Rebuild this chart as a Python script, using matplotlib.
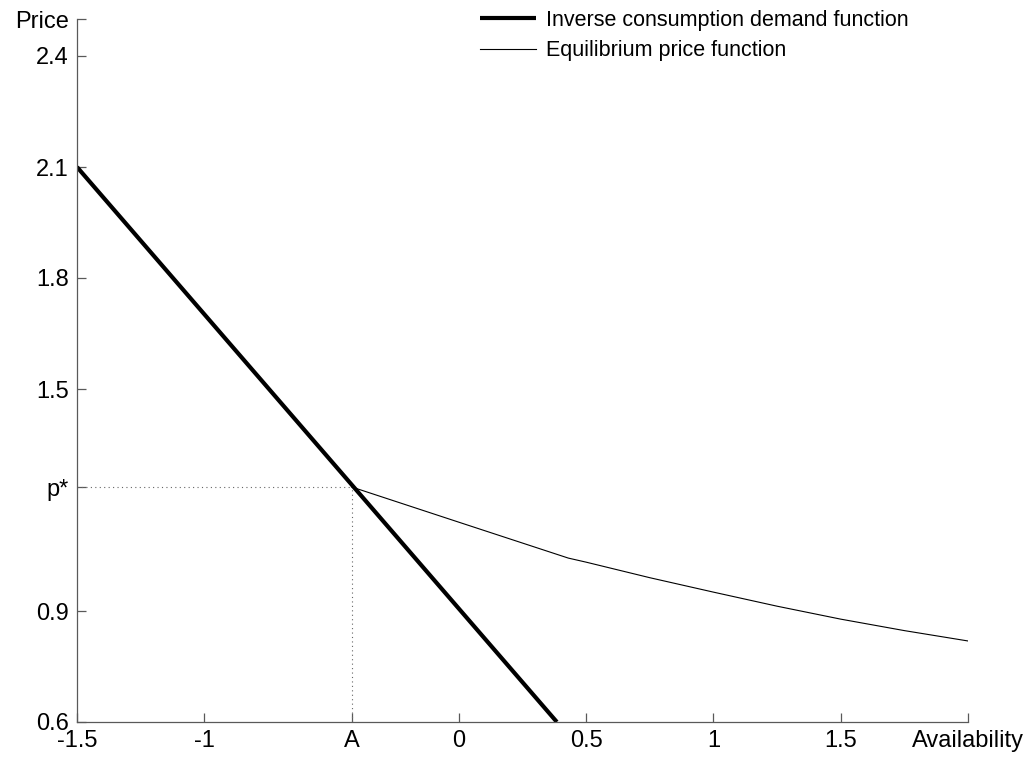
"""
Inverse consumption demand vs. equilibrium price function.
"""

import matplotlib
matplotlib.use("Agg")
import matplotlib.pyplot as plt

# values
A = -0.42
P_STAR = 1.235

demand_x = [-1.5, 0.385]
demand_y = [2.1, 0.6]

eq_x = [A, 0.0, 0.43, 0.5, 0.75, 1.0, 1.25, 1.5, 1.75, 2.0]
eq_y = [P_STAR, 1.14, 1.043, 1.032, 0.99, 0.951, 0.913, 0.878, 0.847, 0.819]

x_ticks = [-1.5, -1.0, A, 0.0, 0.5, 1.0, 1.5, 2.0]
x_labels = ["-1.5", "-1", "A", "0", "0.5", "1", "1.5", "Availability"]
y_ticks = [0.6, 0.9, P_STAR, 1.5, 1.8, 2.1, 2.4, 2.5]
y_labels = ["0.6", "0.9", "p*", "1.5", "1.8", "2.1", "2.4", "Price"]

plt.rcParams["font.family"] = ["Liberation Sans", "DejaVu Sans"]
plt.rcParams["font.size"] = 15.5

fig = plt.figure(figsize=(10.32, 7.63), dpi=100)
ax = fig.add_axes([77 / 1032, 41 / 763, 891 / 1032, 703 / 763])

ax.plot(demand_x, demand_y, color="black", lw=3.0,
        label="Inverse consumption demand function", solid_capstyle="butt")
ax.plot(eq_x, eq_y, color="black", lw=0.8, label="Equilibrium price function")

# guide lines to p* and A
ax.plot([-1.5, A], [P_STAR, P_STAR], color="0.4", lw=0.8, linestyle=(0, (1, 3)))
ax.plot([A, A], [0.6, P_STAR], color="0.4", lw=0.8, linestyle=(0, (1, 3)))

ax.set_xlim(-1.5, 2.0)
ax.set_ylim(0.6, 2.5)
ax.set_xticks(x_ticks)
ax.set_xticklabels(x_labels)
ax.set_yticks(y_ticks)
ax.set_yticklabels(y_labels)

for s in ["top", "right"]:
    ax.spines[s].set_visible(False)
for s in ["left", "bottom"]:
    ax.spines[s].set_color("0.35")
    ax.spines[s].set_linewidth(0.9)

ax.tick_params(direction="in", length=6.5, width=0.9, color="0.35",
               labelsize=17)
ax.tick_params(axis="y", pad=6)
ax.tick_params(axis="x", pad=6)

ax.legend(loc="upper left", bbox_to_anchor=(480 / 1032, 1 - 10 / 763),
          bbox_transform=fig.transFigure, frameon=False, borderpad=0,
          borderaxespad=0, handlelength=2.6, handletextpad=0.45,
          labelspacing=0.42)

fig.savefig("out.png", dpi=100)
